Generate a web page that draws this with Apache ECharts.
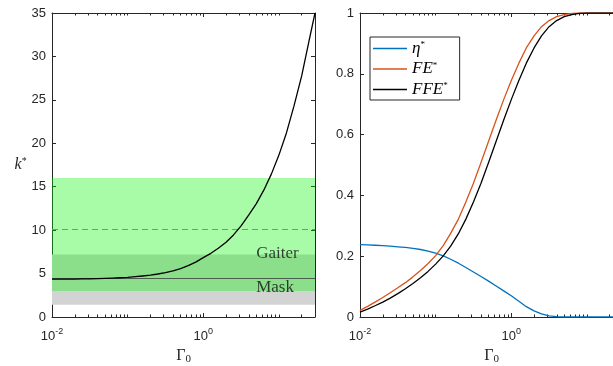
<!DOCTYPE html>
<html>
<head>
<meta charset="utf-8">
<script src="https://cdn.jsdelivr.net/npm/echarts@6/dist/echarts.min.js"></script>
<style>html,body{margin:0;padding:0;background:#fff;}#c{width:613px;height:366px;}</style>
</head>
<body>
<div id="c"></div>
<script>
// ---- data ----
const gamma = [0.01, 0.0126, 0.0158, 0.02, 0.0251, 0.0316, 0.0398, 0.0501, 0.0631, 0.0794,
  0.1, 0.126, 0.158, 0.2, 0.251, 0.316, 0.398, 0.501, 0.631, 0.794,
  1, 1.26, 1.58, 2, 2.51, 3.16, 3.98, 5.01, 6.31, 7.94,
  10, 12.6, 15.8, 20, 25.1, 30];
const kStar = [4.35, 4.35, 4.36, 4.37, 4.38, 4.40, 4.42, 4.45, 4.48, 4.52,
  4.57, 4.64, 4.72, 4.82, 4.95, 5.12, 5.32, 5.58, 5.91, 6.32,
  6.84, 7.33, 7.91, 8.61, 9.45, 10.49, 11.73, 13.03, 14.6, 16.45,
  18.64, 21.22, 24.27, 27.76, 31.86, 35.0];
const etaStar = [0.238, 0.237, 0.236, 0.235, 0.233, 0.231, 0.229, 0.226, 0.222, 0.217,
  0.21, 0.201, 0.19, 0.177, 0.163, 0.148, 0.133, 0.118, 0.102, 0.086,
  0.07, 0.052, 0.034, 0.02, 0.01, 0.004, 0.001, 0, 0, 0,
  0, 0, 0, 0, 0, 0];
const feStar = [0.022, 0.035, 0.049, 0.064, 0.08, 0.096, 0.113, 0.132, 0.153, 0.176,
  0.202, 0.235, 0.275, 0.322, 0.378, 0.44, 0.508, 0.578, 0.648, 0.715,
  0.778, 0.835, 0.885, 0.925, 0.955, 0.975, 0.988, 0.995, 0.999, 1,
  1, 1, 1, 1, 1, 1];
const ffeStar = [0.016, 0.026, 0.037, 0.049, 0.062, 0.077, 0.093, 0.11, 0.129, 0.15,
  0.174, 0.201, 0.233, 0.274, 0.322, 0.378, 0.44, 0.508, 0.578, 0.648,
  0.715, 0.778, 0.835, 0.885, 0.925, 0.955, 0.975, 0.988, 0.995, 0.999,
  1, 1, 1, 1, 1, 1];
const maskBand = [1.4, 7.2];
const gaiterBand = [3.0, 16.0];
const maskMean = 4.5;
const gaiterMean = 10.1;
const leftYTicks = [0, 5, 10, 15, 20, 25, 30, 35];
const rightYTicks = [0, 0.2, 0.4, 0.6, 0.8, 1];
const xMajor = [0.01, 1];
const annotations = [{name: 'Gaiter', x: 5.0, y: 7.25}, {name: 'Mask', x: 5.0, y: 3.45}];

// ---- chart ----
const AX = '#262626';
const SANS = 'Liberation Sans, Arial, Helvetica, sans-serif';
const SERIF = 'Liberation Serif, Times New Roman, serif';
const xMinor = [];
[0.01, 0.1, 1, 10].forEach(d => { for (let m = 1; m <= 9; m++) { const v = +(d * m).toPrecision(3); if (v > 0.01 && v <= 30 && v !== 1) xMinor.push(v); } });

const pairs = arr => gamma.map((g, i) => [g, arr[i]]);
const chart = echarts.init(document.getElementById('c'), null, {renderer: 'canvas'});

const supRich = {
  sup: {fontFamily: SANS, fontSize: 9, color: AX, padding: [0, 0, 9, 0]},
};
function xAxes(g) {
  const base = {type: 'log', logBase: 10, gridIndex: g, min: 0.01, max: 30,
    splitLine: {show: false}, axisLine: {show: false, onZero: false},
    axisLabel: {show: false}, axisTick: {show: false}};
  const line = {show: true, onZero: false, lineStyle: {color: AX, width: 1}};
  return [
    Object.assign({}, base, {position: 'bottom', axisLine: line,
      axisTick: {show: true, inside: true, length: 4, customValues: xMajor, lineStyle: {color: AX}},
      axisLabel: {show: true, customValues: xMajor, margin: 10, fontFamily: SANS, fontSize: 13, color: AX,
        formatter: v => '10{sup|' + Math.round(Math.log10(v)) + '}', rich: supRich},
      name: 'Γ{sub|0}', nameLocation: 'middle', nameGap: 30,
      nameTextStyle: {fontFamily: SERIF, fontSize: 16, color: AX,
        rich: {sub: {fontFamily: SERIF, fontSize: 11, color: AX, padding: [7, 0, 0, 0]}}}}),
    Object.assign({}, base, {position: 'bottom',
      axisTick: {show: true, inside: true, length: 2.5, customValues: xMinor, lineStyle: {color: AX}}}),
    Object.assign({}, base, {position: 'top', axisLine: line,
      axisTick: {show: true, inside: true, length: 4, customValues: xMajor, lineStyle: {color: AX}}}),
    Object.assign({}, base, {position: 'top',
      axisTick: {show: true, inside: true, length: 2.5, customValues: xMinor, lineStyle: {color: AX}}}),
  ];
}
function yAxes(g, ticks, extra) {
  const base = {type: 'value', gridIndex: g, min: ticks[0], max: ticks[ticks.length - 1],
    interval: ticks[1] - ticks[0], splitLine: {show: false},
    axisLine: {show: true, lineStyle: {color: AX, width: 1}},
    axisTick: {show: true, inside: true, length: 4, lineStyle: {color: AX}}};
  return [
    Object.assign({}, base, {position: 'left',
      axisLabel: {show: true, margin: 6, fontFamily: SANS, fontSize: 13, color: AX}}, extra || {}),
    Object.assign({}, base, {position: 'right', axisLabel: {show: false}}),
  ];
}
const curve = (name, xi, yi, arr, color) => ({name: name, type: 'line', xAxisIndex: xi, yAxisIndex: yi,
  data: pairs(arr), smooth: false, symbol: 'none', showSymbol: false,
  color: color, lineStyle: {color: color, width: 1.3, join: 'round'}, z: 6});

const option = {
  backgroundColor: '#fff',
  animation: false,
  grid: [
    {left: 52, top: 13, width: 263, height: 304, outerBoundsMode: 'none', containLabel: false},
    {left: 360, top: 13, width: 263, height: 304, outerBoundsMode: 'none', containLabel: false},
  ],
  xAxis: [...xAxes(0), ...xAxes(1)],
  yAxis: [
    ...yAxes(0, leftYTicks, {name: '{i|k}{sup|*}', nameLocation: 'middle', nameRotate: 0, nameGap: 24,
      nameTextStyle: {fontFamily: SERIF, fontSize: 16, color: AX,
        rich: {i: {fontFamily: SERIF, fontStyle: 'italic', fontSize: 16, color: AX},
               sup: {fontFamily: SERIF, fontSize: 10, color: AX, padding: [0, 0, 8, 0]}}}}),
    ...yAxes(1, rightYTicks),
  ],
  legend: {
    orient: 'vertical', left: 370, top: 37, padding: [3, 12, 2, 3], itemGap: 3.5,
    icon: 'rect', itemWidth: 34, itemHeight: 1.5, borderColor: AX, borderWidth: 1, backgroundColor: '#fff',
    data: ['eta', 'FE', 'FFE'],
    formatter: n => ({eta: '{i|η}{sup|*}', FE: '{i|FE}{sup|*}', FFE: '{i|FFE}{sup|*}'})[n],
    textStyle: {fontFamily: SERIF, fontSize: 17, color: '#000',
      rich: {i: {fontFamily: SERIF, fontStyle: 'italic', fontSize: 17, lineHeight: 16, color: '#000'},
             sup: {fontFamily: SERIF, fontSize: 9, lineHeight: 9, color: '#000', padding: [0, 0, 7, 0]}}}
  },
  series: [
    {type: 'line', xAxisIndex: 0, yAxisIndex: 0, data: [], silent: true, z: 1,
      markArea: {silent: true, itemStyle: {color: 'rgb(211,211,211)'},
        data: [[{yAxis: maskBand[0]}, {yAxis: maskBand[1]}]]}},
    {type: 'line', xAxisIndex: 0, yAxisIndex: 0, data: [], silent: true, z: 2,
      markArea: {silent: true, itemStyle: {color: 'rgba(0,245,0,0.34)'},
        data: [[{yAxis: gaiterBand[0]}, {yAxis: gaiterBand[1]}]]},
      markLine: {silent: true, symbol: 'none', label: {show: false},
        data: [
          {yAxis: gaiterMean, lineStyle: {color: '#6aa84a', width: 1, type: [6, 4]}},
          {yAxis: maskMean, lineStyle: {color: '#4b5e4b', width: 1, type: 'solid'}}
        ]}},
    {type: 'scatter', xAxisIndex: 0, yAxisIndex: 0, symbolSize: 0, silent: true, z: 5,
      data: annotations.map(a => ({name: a.name, value: [a.x, a.y]})),
      label: {show: true, position: 'right', distance: 0, formatter: p => p.name,
        fontFamily: SERIF, fontSize: 17, color: '#111'}},
    curve('kStar', 0, 0, kStar, '#000'),
    curve('eta', 4, 2, etaStar, '#0072BD'),
    curve('FE', 4, 2, feStar, '#D95319'),
    curve('FFE', 4, 2, ffeStar, '#000'),
  ]
};
chart.setOption(option);
</script>
</body>
</html>
